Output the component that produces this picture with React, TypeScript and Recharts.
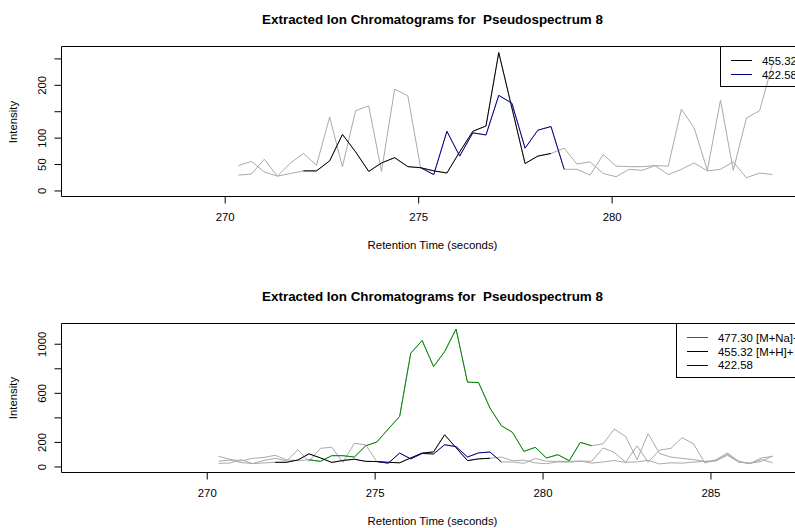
import { LineChart, Line, XAxis, YAxis, ReferenceArea } from "recharts";

// scan times (seconds) shared by both panels
const scanTimes = [
  270.34, 270.68, 271.01, 271.35, 271.69, 272.02, 272.36, 272.7, 273.03, 273.37,
  273.71, 274.04, 274.38, 274.72, 275.05, 275.39, 275.73, 276.06, 276.4, 276.74,
  277.07, 277.41, 277.75, 278.08, 278.42, 278.76, 279.09, 279.43, 279.77, 280.1,
  280.44, 280.78, 281.11, 281.45, 281.79, 282.12, 282.46, 282.8, 283.13, 283.47,
  283.81, 284.14, 284.48, 284.82, 285.15, 285.49, 285.83, 286.16, 286.5, 286.84,
];

// EIC intensities, one value per scan
const int477 = [
  87, 62, 48, 70, 78, 95, 58, 52, 59, 46,
  92, 92, 81, 173, 203, 309, 412, 927, 1030, 818,
  940, 1124, 691, 688, 480, 336, 282, 127, 160, 73,
  100, 51, 200, 173, 189, 309, 249, 60, 271, 110,
  80, 70, 60, 45, 50, 95, 40, 30, 45, 90,
];
const int455 = [
  30, 32, 60, 28, 33, 38, 38, 57, 107, 74,
  37, 53, 63, 46, 44, 38, 34, 74, 113, 123,
  262, 157, 52, 66, 71, 81, 51, 55, 33, 27,
  41, 39, 48, 31, 41, 53, 38, 41, 55, 25,
  34, 31, 40, 45, 50, 105, 40, 30, 60, 35,
];
const int422 = [
  48, 56, 36, 28, 53, 71, 49, 140, 46, 152,
  161, 37, 193, 180, 44, 31, 113, 66, 110, 106,
  181, 166, 81, 115, 122, 41, 41, 30, 69, 47,
  46, 46, 48, 47, 155, 119, 39, 172, 39, 138,
  152, 239, 189, 32, 59, 114, 46, 27, 73, 87,
];

// scan index ranges of the detected peaks (drawn in colour)
const peak477 = [8, 33];
const peak455 = [5, 24];
const peak422 = [14, 25];

// the first plot only has the first 42 scans
const topScanCount = 42;

const topXTicks = [270, 275, 280];
const topYTicks = [0, 50, 100, 150, 200, 250];
const topYLabels = [0, 50, 100, 200];
const botXTicks = [270, 275, 280, 285];
const botYTicks = [0, 200, 400, 600, 800, 1000];
const botYLabels = [0, 200, 600, 1000];

const GREY = "#a9a9a9";
const BLACK = "#000000";
const BLUE = "#00008b";
const GREEN = "#008b00";

const FONT = "'Liberation Sans', Arial, Helvetica, sans-serif";
const FS = 11.4;

const PLOT_LEFT = 61.5;
const PLOT_W = 741.8;
const CHART_W = PLOT_LEFT + PLOT_W + 2;
const TITLE = "Extracted Ion Chromatograms for  Pseudospectrum 8";

const points = (vals: number[], from: number, to: number) =>
  scanTimes.slice(from, to + 1).map((t, k) => ({ t, v: vals[from + k] }));

interface Series {
  key: string;
  color: string;
  data: { t: number; v: number }[];
}

interface LegendItem {
  label: string;
  color: string;
}

const XTick = (props: any) => {
  const { x, y, payload } = props;
  return (
    <text x={x} y={y + 14} textAnchor="middle" dominantBaseline="central" fontSize={FS} fontFamily={FONT} fill="#000">
      {payload.value}
    </text>
  );
};

const makeYTick = (labels: number[]) => (props: any) => {
  const { x, y, payload } = props;
  if (!labels.includes(payload.value)) return <g />;
  const cx = x - 12.8;
  return (
    <text
      x={cx}
      y={y}
      transform={`rotate(-90 ${cx} ${y})`}
      textAnchor="middle"
      dominantBaseline="central"
      fontSize={FS}
      fontFamily={FONT}
      fill="#000"
    >
      {payload.value}
    </text>
  );
};

interface PanelProps {
  top: number;
  boxH: number;
  xDomain: [number, number];
  yDomain: [number, number];
  xTicks: number[];
  yTicks: number[];
  yLabels: number[];
  greys: Series[];
  colored: Series[];
  legend: LegendItem[];
  legendLeft: number;
}

function Panel({ top, boxH, xDomain, yDomain, xTicks, yTicks, yLabels, greys, colored, legend, legendLeft }: PanelProps) {
  const boxTop = 46.5;
  const chartH = boxTop + boxH + 60;
  const boxBottom = boxTop + boxH;
  const rowH = 13.7;
  return (
    <div style={{ position: "absolute", left: 0, top, width: CHART_W, height: chartH }}>
      <div
        style={{
          position: "absolute",
          left: 432.5 - 300,
          width: 600,
          top: 12,
          height: 16,
          lineHeight: "16px",
          textAlign: "center",
          fontWeight: "bold",
          fontSize: 13.4,
          whiteSpace: "pre",
        }}
      >
        {TITLE}
      </div>
      <LineChart
        width={CHART_W}
        height={chartH}
        margin={{ top: boxTop, right: CHART_W - PLOT_LEFT - PLOT_W, bottom: 0, left: 0 }}
      >
        <XAxis
          type="number"
          dataKey="t"
          domain={xDomain}
          allowDataOverflow
          ticks={xTicks}
          interval={0}
          height={60}
          tickSize={7}
          tickMargin={0}
          axisLine={false}
          tickLine={{ stroke: "#000" }}
          tick={<XTick />}
        />
        <YAxis
          type="number"
          dataKey="v"
          domain={yDomain}
          allowDataOverflow
          ticks={yTicks}
          interval={0}
          width={PLOT_LEFT}
          tickSize={7}
          tickMargin={0}
          axisLine={false}
          tickLine={{ stroke: "#000" }}
          tick={makeYTick(yLabels)}
        />
        <ReferenceArea x1={xDomain[0]} x2={xDomain[1]} y1={yDomain[0]} y2={yDomain[1]} fill="none" fillOpacity={0} stroke="#000" strokeOpacity={1} />
        {greys.map((s) => (
          <Line
            key={"g" + s.key}
            data={s.data}
            dataKey="v"
            type="linear"
            stroke={GREY}
            strokeWidth={1}
            dot={false}
            activeDot={false}
            isAnimationActive={false}
          />
        ))}
        {colored.map((s) => (
          <Line
            key={"c" + s.key}
            data={s.data}
            dataKey="v"
            type="linear"
            stroke={s.color}
            strokeWidth={1}
            dot={false}
            activeDot={false}
            isAnimationActive={false}
          />
        ))}
      </LineChart>
      {/* y axis title */}
      <div
        style={{
          position: "absolute",
          left: 13.3 - 50,
          top: boxTop + boxH / 2 - 8,
          width: 100,
          height: 16,
          lineHeight: "16px",
          textAlign: "center",
          fontSize: FS,
          transform: "rotate(-90deg)",
        }}
      >
        Intensity
      </div>
      {/* x axis title */}
      <div
        style={{
          position: "absolute",
          left: 432.5 - 150,
          width: 300,
          top: boxBottom + 48.5 - 8,
          height: 16,
          lineHeight: "16px",
          textAlign: "center",
          fontSize: FS,
        }}
      >
        Retention Time (seconds)
      </div>
      {/* legend */}
      <div
        style={{
          position: "absolute",
          left: legendLeft,
          top: boxTop - 0.5,
          width: PLOT_LEFT + PLOT_W - legendLeft,
          height: legend.length * rowH + 14,
          border: "1px solid #000",
          boxSizing: "border-box",
        }}
      >
        {legend.map((it, i) => (
          <div key={it.label}>
            <div
              style={{
                position: "absolute",
                left: 10,
                top: 13.3 + i * rowH,
                width: 21,
                height: 0,
                borderTop: `1px solid ${it.color}`,
              }}
            />
            <div
              style={{
                position: "absolute",
                left: 41,
                top: 13.8 + i * rowH - 8,
                height: 16,
                lineHeight: "16px",
                fontSize: FS,
                whiteSpace: "nowrap",
              }}
            >
              {it.label}
            </div>
          </div>
        ))}
      </div>
    </div>
  );
}

export default function App() {
  const topGreys: Series[] = [
    { key: "455", color: GREY, data: points(int455, 0, topScanCount - 1) },
    { key: "422", color: GREY, data: points(int422, 0, topScanCount - 1) },
  ];
  const topColored: Series[] = [
    { key: "455", color: BLACK, data: points(int455, peak455[0], peak455[1]) },
    { key: "422", color: BLUE, data: points(int422, peak422[0], peak422[1]) },
  ];
  const last = scanTimes.length - 1;
  const botGreys: Series[] = [
    { key: "477", color: GREY, data: points(int477, 0, last) },
    { key: "455", color: GREY, data: points(int455, 0, last) },
    { key: "422", color: GREY, data: points(int422, 0, last) },
  ];
  const botColored: Series[] = [
    { key: "477", color: GREEN, data: points(int477, peak477[0], peak477[1]) },
    { key: "455", color: BLACK, data: points(int455, peak455[0], peak455[1]) },
    { key: "422", color: BLUE, data: points(int422, peak422[0], peak422[1]) },
  ];

  return (
    <div
      style={{
        position: "absolute",
        left: 0,
        top: 0,
        width: 795,
        height: 528,
        overflow: "hidden",
        background: "#fff",
        fontFamily: FONT,
        color: "#000",
      }}
    >
      <Panel
        top={0}
        boxH={150}
        xDomain={[265.77, 284.94]}
        yDomain={[-10.5, 273.5]}
        xTicks={topXTicks}
        yTicks={topYTicks}
        yLabels={topYLabels}
        greys={topGreys}
        colored={topColored}
        legend={[
          { label: "455.32", color: BLACK },
          { label: "422.58", color: BLUE },
        ]}
        legendLeft={720}
      />
      <Panel
        top={277}
        boxH={149}
        xDomain={[265.66, 287.75]}
        yDomain={[-45, 1169]}
        xTicks={botXTicks}
        yTicks={botYTicks}
        yLabels={botYLabels}
        greys={botGreys}
        colored={botColored}
        legend={[
          { label: "477.30 [M+Na]+", color: GREEN },
          { label: "455.32 [M+H]+", color: BLACK },
          { label: "422.58", color: BLUE },
        ]}
        legendLeft={676}
      />
    </div>
  );
}
